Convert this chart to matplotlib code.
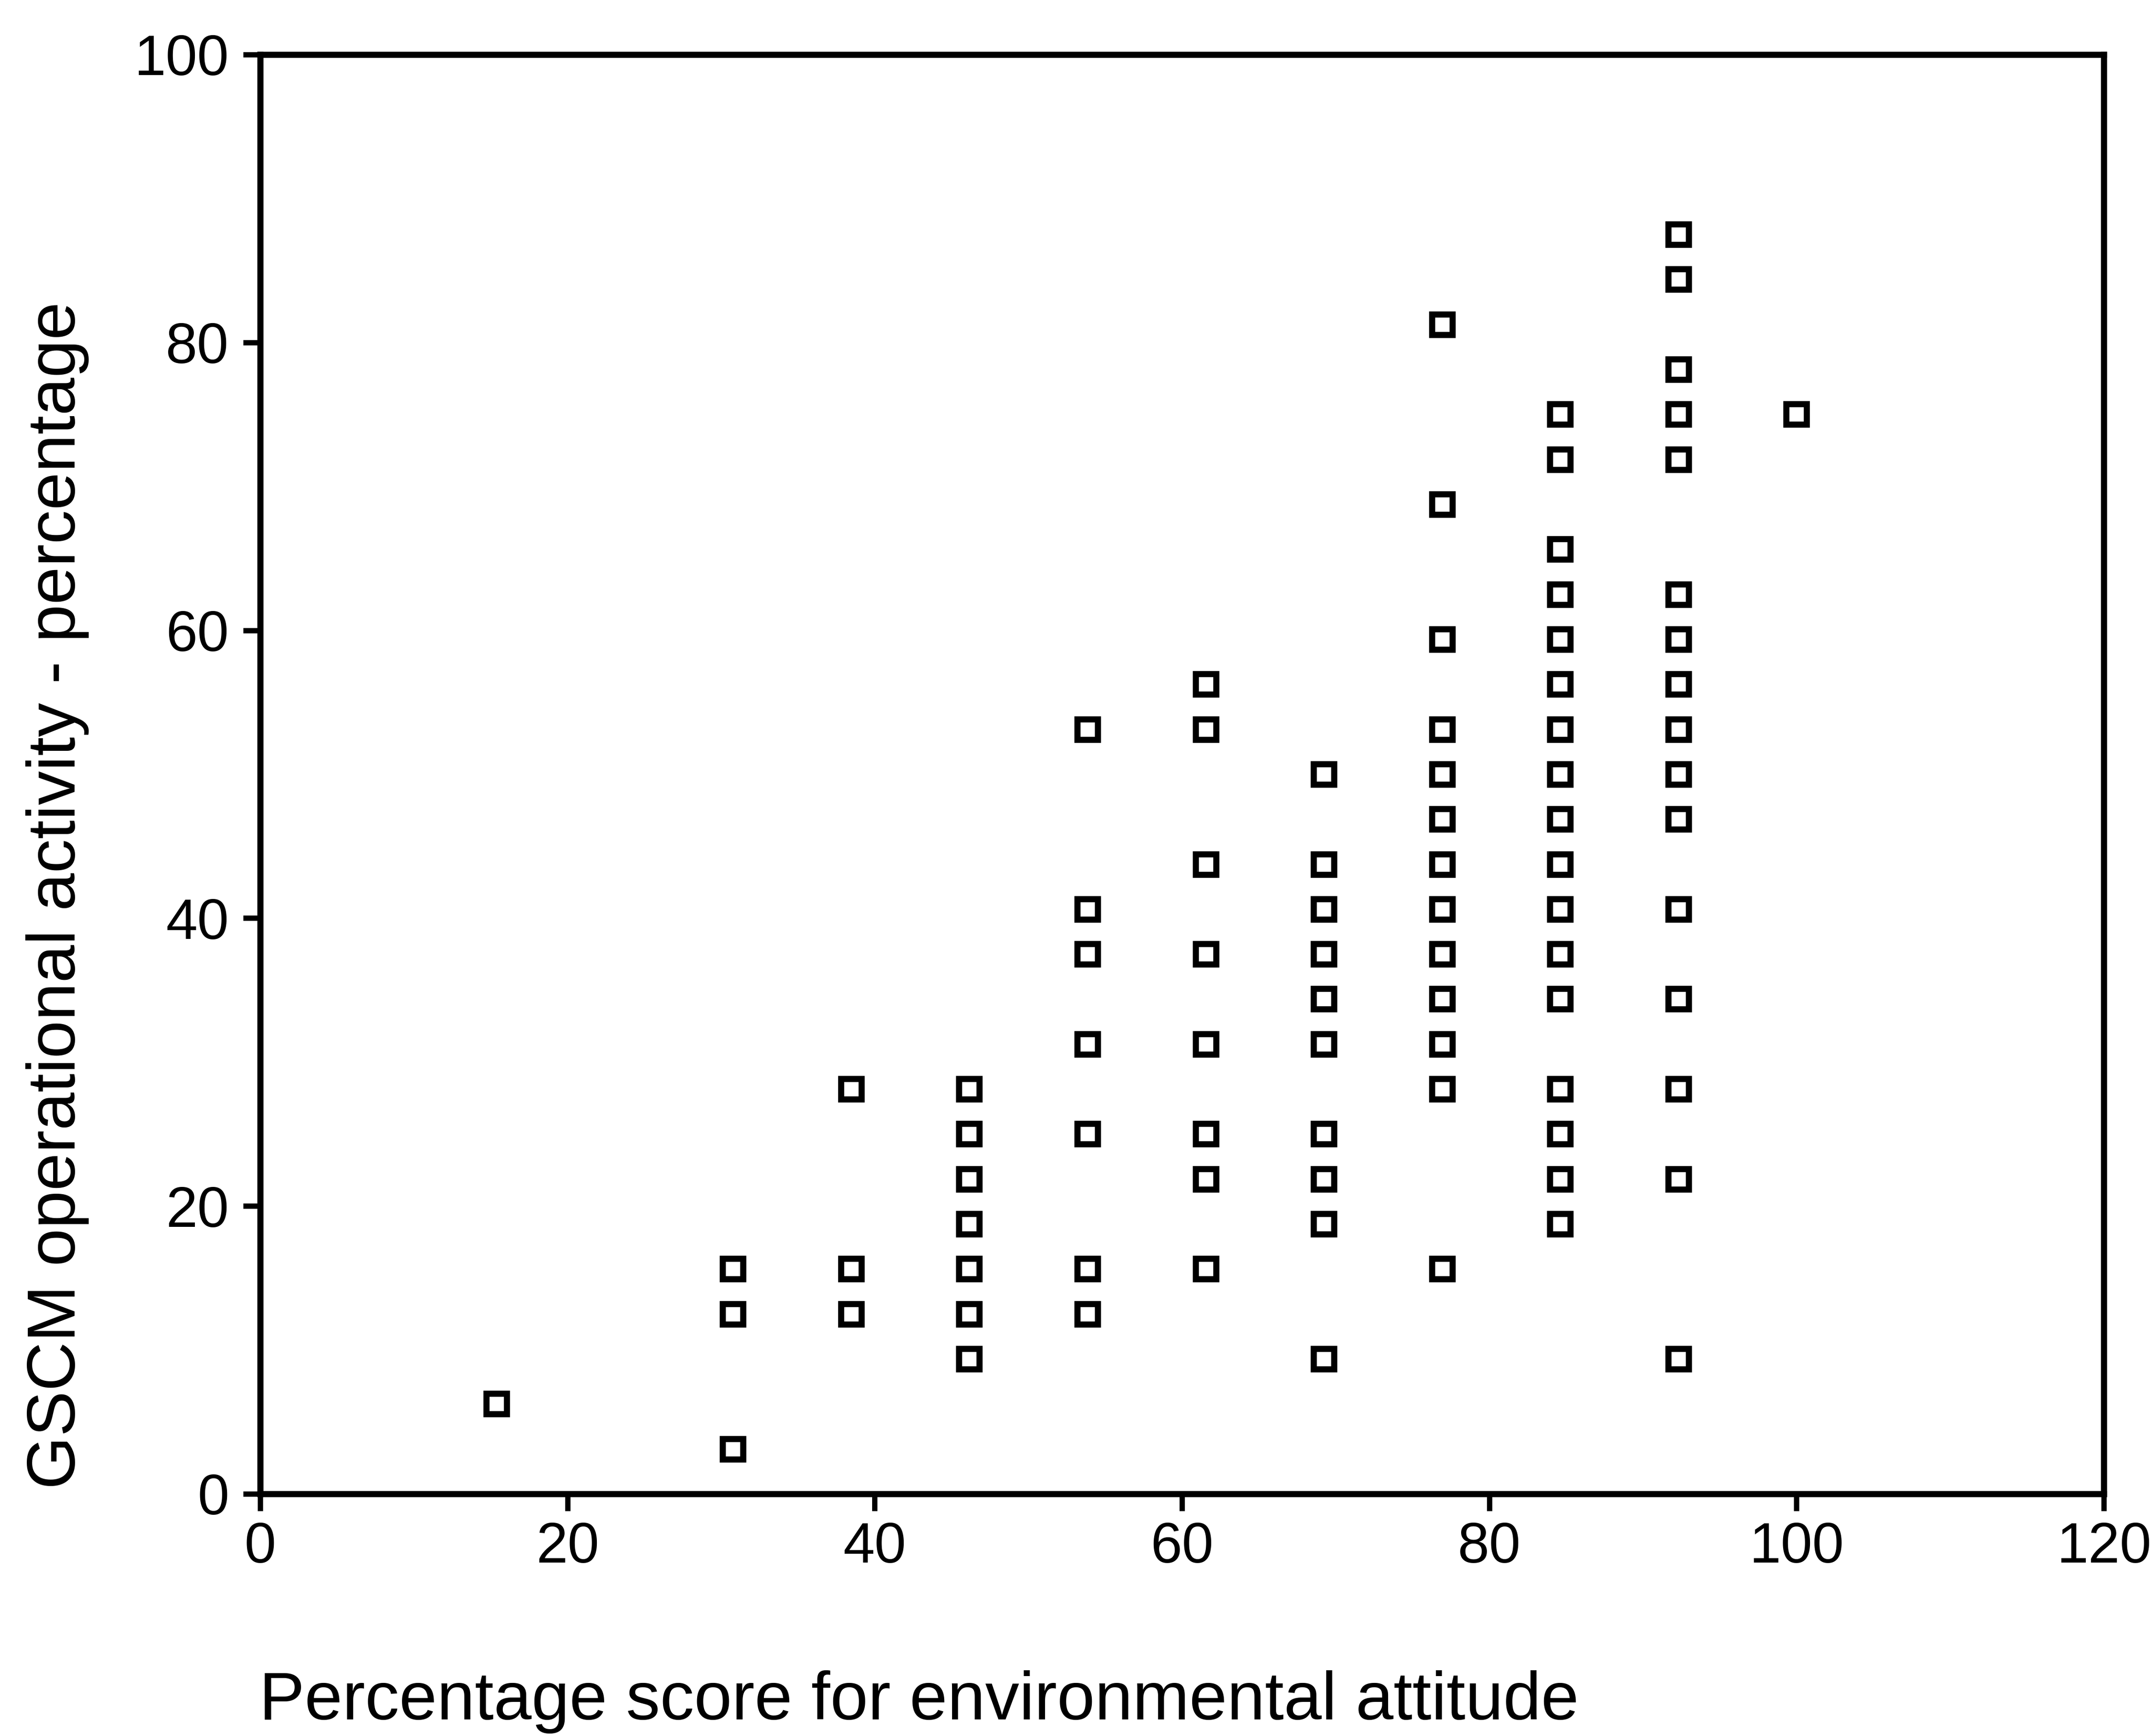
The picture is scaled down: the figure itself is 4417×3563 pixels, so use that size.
import matplotlib
matplotlib.use("Agg")
import matplotlib.pyplot as plt

plt.rcParams['font.family'] = ['Liberation Sans', 'DejaVu Sans']

# x: percentage score for environmental attitude (steps of 100/13)
attitude = [15.38,
            30.77, 30.77, 30.77,
            38.46, 38.46, 38.46,
            46.15, 46.15, 46.15, 46.15, 46.15, 46.15, 46.15,
            53.85, 53.85, 53.85, 53.85, 53.85, 53.85, 53.85,
            61.54, 61.54, 61.54, 61.54, 61.54, 61.54, 61.54, 61.54,
            69.23, 69.23, 69.23, 69.23, 69.23, 69.23, 69.23, 69.23, 69.23, 69.23,
            76.92, 76.92, 76.92, 76.92, 76.92, 76.92, 76.92, 76.92, 76.92,
            76.92, 76.92, 76.92, 76.92,
            84.62, 84.62, 84.62, 84.62, 84.62, 84.62, 84.62, 84.62, 84.62,
            84.62, 84.62, 84.62, 84.62, 84.62, 84.62, 84.62, 84.62,
            92.31, 92.31, 92.31, 92.31, 92.31, 92.31, 92.31, 92.31,
            92.31, 92.31, 92.31, 92.31, 92.31, 92.31, 92.31, 92.31,
            100.0]

# y: GSCM operational activity percentage (steps of 3.125)
gscm = [6.25,
        3.125, 12.5, 15.625,
        12.5, 15.625, 28.125,
        9.375, 12.5, 15.625, 18.75, 21.875, 25.0, 28.125,
        12.5, 15.625, 25.0, 31.25, 37.5, 40.625, 53.125,
        15.625, 21.875, 25.0, 31.25, 37.5, 43.75, 53.125, 56.25,
        9.375, 18.75, 21.875, 25.0, 31.25, 34.375, 37.5, 40.625, 43.75, 50.0,
        15.625, 28.125, 31.25, 34.375, 37.5, 40.625, 43.75, 46.875, 50.0,
        53.125, 59.375, 68.75, 81.25,
        18.75, 21.875, 25.0, 28.125, 34.375, 37.5, 40.625, 43.75, 46.875,
        50.0, 53.125, 56.25, 59.375, 62.5, 65.625, 71.875, 75.0,
        9.375, 21.875, 28.125, 34.375, 40.625, 46.875, 50.0, 53.125,
        56.25, 59.375, 62.5, 71.875, 75.0, 78.125, 84.375, 87.5,
        75.0]

x_ticks = [0, 20, 40, 60, 80, 100, 120]
y_ticks = [0, 20, 40, 60, 80, 100]

fig = plt.figure(figsize=(4417 / 300, 3563 / 300), dpi=300)
ax = fig.add_axes([0.1209, 0.1395, 0.8567, 0.8291])

ax.plot(attitude, gscm, linestyle='none', marker='s', markersize=10,
        markerfacecolor='white', markeredgecolor='black', markeredgewidth=3,
        clip_on=False)

ax.set_xlim(0, 120)
ax.set_ylim(0, 100)
ax.set_xticks(x_ticks)
ax.set_yticks(y_ticks)
ax.tick_params(axis='both', direction='out', length=8.4, width=2.6,
               labelsize=28, colors='black')
ax.tick_params(axis='x', pad=5)
ax.tick_params(axis='y', pad=7)
for sp in ax.spines.values():
    sp.set_linewidth(3)
    sp.set_color('black')

fig.text(0.1204, 0.0095, 'Percentage score for environmental attitude',
         fontsize=33.5, ha='left', va='baseline')
fig.text(0.012, 0.1423, 'GSCM operational activity - percentage',
         fontsize=33.5, rotation=90, ha='left', va='bottom')

fig.savefig('out.png', dpi=300, facecolor='white')
